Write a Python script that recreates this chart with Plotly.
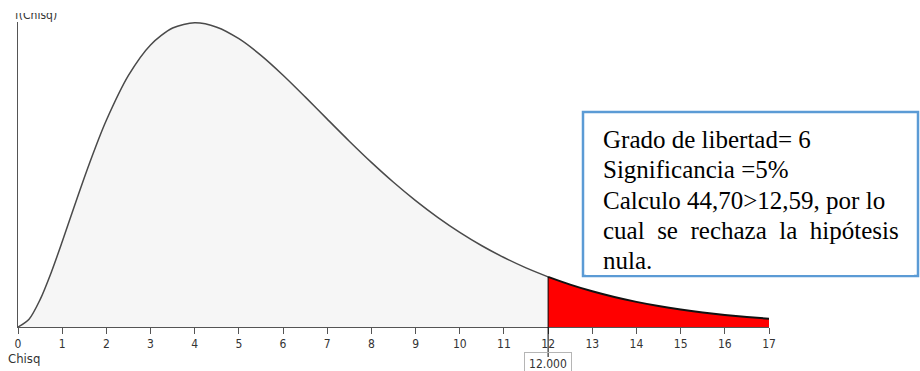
import plotly.graph_objects as go

# ---- data ----
chisq_x = [0, 0.25, 0.5, 0.75, 1, 1.25, 1.5, 1.75, 2, 2.5, 3, 3.5, 4, 4.5, 5, 5.5, 6, 6.5,
           7, 7.5, 8, 8.5, 9, 9.5, 10, 10.5, 11, 11.5, 12, 12.5, 13, 13.5, 14, 14.5, 15,
           15.5, 16, 16.5, 17]
density = [0.0, 0.00345, 0.01217, 0.02416, 0.03791, 0.05228, 0.06643, 0.07979, 0.09197,
           0.11191, 0.12551, 0.13304, 0.13534, 0.13340, 0.12826, 0.12086, 0.11202, 0.10239,
           0.09248, 0.08268, 0.07326, 0.06441, 0.05624, 0.04880, 0.04211, 0.03616, 0.03091,
           0.02631, 0.02231, 0.01885, 0.01588, 0.01334, 0.01117, 0.00933, 0.00778, 0.00647,
           0.00537, 0.00445, 0.00368]
critical_value = 12
critical_label = "12.000"
tick_values = list(range(0, 18))
box_lines = ["Grado de libertad= 6",
             "Significancia =5%",
             "Calculo 44,70>12,59, por lo",
             "cual\u00a0\u00a0se\u00a0\u00a0rechaza\u00a0\u00a0la\u00a0\u00a0hipótesis",
             "nula."]

# ---- geometry ----
W, H = 920, 371
ML, MR, MT, MB = 18, 151, 22, 44
PW, PH = W - ML - MR, H - MT - MB
XMIN, XMAX = 0, 17
YMAX = 0.1357

def px(xp):
    return (xp - ML) / PW

def py(yp):
    return (H - MB - yp) / PH

narrow = "DejaVu Sans Condensed"
serif = "Liberation Serif"

left_x = [x for x in chisq_x if x <= critical_value]
left_y = density[:len(left_x)]
idx = chisq_x.index(critical_value)
right_x = chisq_x[idx:]
right_y = density[idx:]
y_crit = density[idx]

fig = go.Figure()
fig.add_trace(go.Scatter(x=left_x, y=left_y, mode="lines", fill="tozeroy",
                         fillcolor="#f6f6f6", line=dict(color="#4a4a4a", width=1.5, shape="spline", smoothing=0.8),
                         hoverinfo="skip", showlegend=False))
fig.add_trace(go.Scatter(x=right_x, y=right_y, mode="lines", fill="tozeroy",
                         fillcolor="#ff0000", line=dict(color="#111111", width=2, shape="spline", smoothing=0.8),
                         hoverinfo="skip", showlegend=False))

xc = (critical_value - XMIN) / (XMAX - XMIN)
shapes = [
    dict(type="line", xref="paper", yref="paper", x0=xc, x1=xc,
         y0=py(357), y1=y_crit / YMAX, line=dict(color="black", width=1), layer="above"),
    dict(type="rect", xref="paper", yref="paper", x0=px(583), x1=px(918),
         y0=py(276), y1=py(112), fillcolor="white",
         line=dict(color="#5B9BD5", width=2.5), layer="above"),
]

annotations = []
baselines = [147, 177, 208, 238, 268]
for line, b in zip(box_lines, baselines):
    annotations.append(dict(xref="paper", yref="paper", x=px(603), y=py(b - 8),
                            xanchor="left", yanchor="middle", text=line, showarrow=False,
                            font=dict(family=serif, size=25, color="black"),
                            borderpad=0, borderwidth=0))
# clip the last line at the box's inner edge
annotations.append(dict(xref="paper", yref="paper", x=px(586), y=py(274.5),
                        xanchor="left", yanchor="bottom", text=" ", showarrow=False,
                        width=328, height=5, bgcolor="white", borderpad=0, borderwidth=0))

annotations.append(dict(xref="paper", yref="paper", x=px(15), y=py(15),
                        xanchor="left", yanchor="middle", text="f(Chisq)", showarrow=False,
                        font=dict(family=narrow, size=12, color="#333"),
                        borderpad=0, borderwidth=0))
annotations.append(dict(xref="paper", yref="paper", x=px(10), y=py(0),
                        xanchor="left", yanchor="top", text=" ", showarrow=False,
                        width=60, height=13, bgcolor="white", borderpad=0, borderwidth=0))
annotations.append(dict(xref="paper", yref="paper", x=px(6), y=py(358),
                        xanchor="left", yanchor="middle", text="Chisq", showarrow=False,
                        font=dict(family=narrow, size=13, color="#333")))
annotations.append(dict(xref="x", yref="paper", x=critical_value, y=py(364),
                        xanchor="center", yanchor="middle", text=critical_label, showarrow=False,
                        width=44, height=20, borderpad=1, bordercolor="#b5b5b5", borderwidth=1,
                        font=dict(family=narrow, size=12, color="#333")))

fig.update_layout(
    width=W, height=H,
    margin=dict(l=ML, r=MR, t=MT, b=MB),
    paper_bgcolor="white", plot_bgcolor="white",
    shapes=shapes, annotations=annotations,
    xaxis=dict(range=[XMIN, XMAX], showgrid=False, zeroline=False, showline=True,
               linecolor="#555", linewidth=1, ticks="outside", ticklen=6, tickcolor="#555",
               tickvals=tick_values, ticktext=[str(t) for t in tick_values],
               tickfont=dict(family=narrow, size=12, color="#333")),
    yaxis=dict(range=[0, YMAX], showgrid=False, zeroline=False, showline=True,
               linecolor="#555", linewidth=1, showticklabels=False, ticks=""),
)

fig.write_html("out.html")
